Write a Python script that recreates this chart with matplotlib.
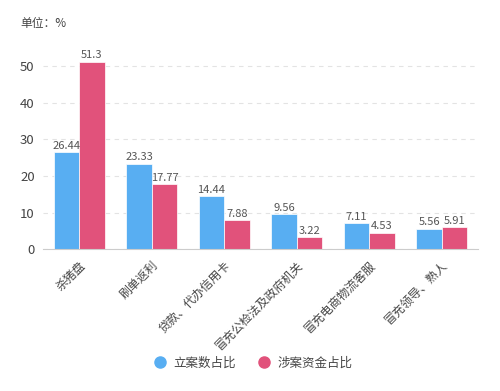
import matplotlib.pyplot as plt
import numpy as np

plt.rcParams['font.family'] = ['Noto Sans CJK SC', 'DejaVu Sans']

categories = ['杀猪盘', '刷单返利', '贷款、代办信用卡', '冒充公检法及政府机关', '冒充电商物流客服', '冒充领导、熟人']
case_share = [26.44, 23.33, 14.44, 9.56, 7.11, 5.56]
money_share = [51.3, 17.77, 7.88, 3.22, 4.53, 5.91]
case_labels = ['26.44', '23.33', '14.44', '9.56', '7.11', '5.56']
money_labels = ['51.3', '17.77', '7.88', '3.22', '4.53', '5.91']

blue = '#58AEF2'
pink = '#E1527B'
grey = '#555555'

fig = plt.figure(figsize=(5, 3.91), dpi=100)
ax = fig.add_axes([0.086, 0.363, 0.87, 0.514])

x = np.arange(len(categories))
w = 0.35
b1 = ax.bar(x - w / 2, case_share, w, color=blue, edgecolor='white', linewidth=0.5, label='立案数占比', zorder=3)
b2 = ax.bar(x + w / 2, money_share, w, color=pink, edgecolor='white', linewidth=0.5, label='涉案资金占比', zorder=3)

for rect, lab in zip(b1, case_labels):
    ax.text(rect.get_x() + rect.get_width() / 2, rect.get_height() + 0.4, lab,
            ha='center', va='bottom', fontsize=8, color=grey)
for rect, lab in zip(b2, money_labels):
    ax.text(rect.get_x() + rect.get_width() / 2, rect.get_height() + 0.4, lab,
            ha='center', va='bottom', fontsize=8, color=grey)

ax.set_xlim(-0.5, len(categories) - 0.5)
ax.set_ylim(0, 55)
ax.set_yticks([0, 10, 20, 30, 40, 50])
ax.yaxis.grid(True, linestyle=(0, (4, 4)), color='#e3e3e3', linewidth=0.8, zorder=0)
ax.set_xticks(x)
ax.tick_params(axis='both', length=0, colors='#444444')
ax.tick_params(axis='x', pad=7, labelsize=8.6)
ax.tick_params(axis='y', pad=6, labelsize=9.5)
ax.set_xticklabels(categories, rotation=45, ha='right', rotation_mode='anchor', fontsize=8.6, color='#444444')
for s in ['top', 'right', 'left']:
    ax.spines[s].set_visible(False)
ax.spines['bottom'].set_color('#cccccc')
ax.spines['bottom'].set_zorder(4)

fig.text(0.04, 0.94, '单位：%', fontsize=8.5, color='#444444', va='center')

handles = [plt.Line2D([], [], marker='o', linestyle='', color=blue, markersize=8),
           plt.Line2D([], [], marker='o', linestyle='', color=pink, markersize=8)]
fig.legend(handles, ['立案数占比', '涉案资金占比'], loc='center', bbox_to_anchor=(0.5, 0.072),
           ncol=2, frameon=False, fontsize=9, handletextpad=0.1, columnspacing=1.2,
           labelcolor='#444444')

fig.savefig('out.png', dpi=100, facecolor='white')
